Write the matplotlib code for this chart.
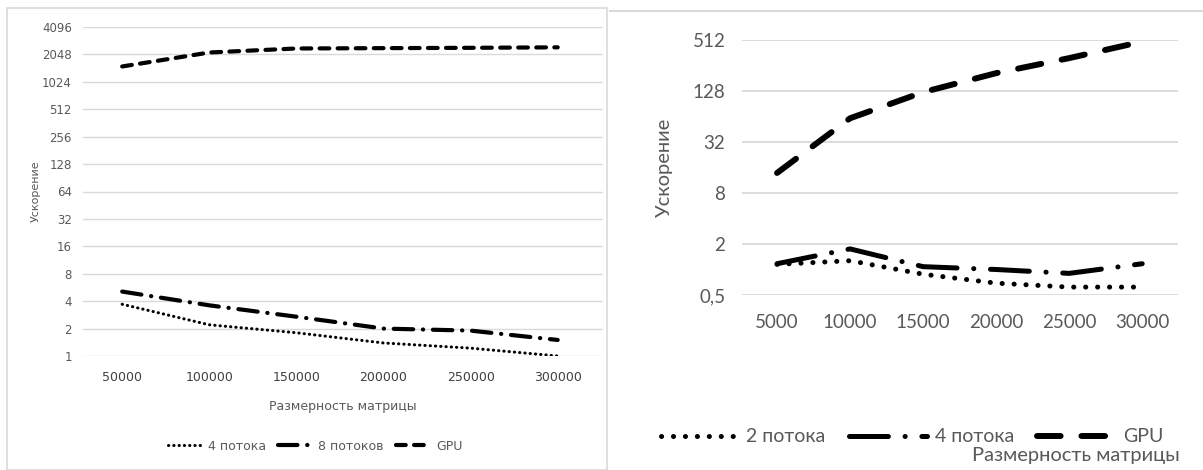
import matplotlib
matplotlib.use('Agg')
import matplotlib.pyplot as plt
from matplotlib.patches import Rectangle
from matplotlib.lines import Line2D

plt.rcParams['lines.scale_dashes'] = False

# левый график
sizes_big = ['50000', '100000', '150000', '200000', '250000', '300000']
threads4_big = [3.7, 2.2, 1.8, 1.39, 1.22, 1.0]
threads8_big = [5.1, 3.6, 2.7, 2.0, 1.9, 1.5]
gpu_big = [1510, 2150, 2380, 2400, 2420, 2450]
yticks_big = [1, 2, 4, 8, 16, 32, 64, 128, 256, 512, 1024, 2048, 4096]

# правый график
sizes_small = ['5000', '10000', '15000', '20000', '25000', '30000']
threads2_small = [1.15, 1.27, 0.88, 0.69, 0.62, 0.62]
threads4_small = [1.17, 1.75, 1.08, 1.0, 0.9, 1.17]
gpu_small = [13.8, 61, 124, 208, 313, 490]
yticks_small = [0.5, 2, 8, 32, 128, 512]
ytick_labels_small = ['0,5', '2', '8', '32', '128', '512']

grid_col = '#d9d9d9'
txt_col = '#595959'
narrow = ['Liberation Sans Narrow', 'DejaVu Sans']
wide = ['Lato', 'DejaVu Sans']

fig = plt.figure(figsize=(12.03, 4.70), dpi=100)

# рамки
fig.patches.append(Rectangle((7 / 1203, 0), 600 / 1203, 1 - 8 / 470, transform=fig.transFigure,
                             fill=False, edgecolor='#d9d9d9', lw=1.2))
fig.add_artist(Line2D([610 / 1203, 1], [1 - 11 / 470] * 2, transform=fig.transFigure,
                      color='#d9d9d9', lw=1.5))

# ---- левый ----
ax1 = fig.add_axes([83 / 1203, 1 - 356 / 470, 520 / 1203, 329 / 470])
x = range(len(sizes_big))
l4, = ax1.plot(x, threads4_big, color='black', lw=2.2, dashes=(0.2, 3.6), dash_capstyle='round')
l8, = ax1.plot(x, threads8_big, color='black', lw=3, dashes=(14, 7, 0.2, 7), dash_capstyle='round')
lg, = ax1.plot(x, gpu_big, color='black', lw=3, dashes=(7, 6), dash_capstyle='round')
ax1.set_yscale('log', base=2)
ax1.set_ylim(1, 4096)
ax1.set_xlim(-0.45, 5.52)
ax1.set_yticks(yticks_big)
ax1.set_yticklabels([str(v) for v in yticks_big], family=narrow, fontsize=8.5, color=txt_col)
ax1.set_xticks(list(x))
ax1.set_xticklabels(sizes_big, family=narrow, fontsize=9, color='#404040')
ax1.minorticks_off()
ax1.tick_params(length=0, pad=11)
ax1.tick_params(axis='y', pad=8)
ax1.grid(axis='y', color=grid_col, lw=1)
for s in ax1.spines.values():
    s.set_visible(False)
ax1.set_xlabel('Размерность матрицы', family=narrow, fontsize=9, color=txt_col, labelpad=11)
ax1.set_ylabel('Ускорение', family=narrow, fontsize=8, color=txt_col, labelpad=1)
fig.legend([l4, l8, lg], ['4 потока', '8 потоков', 'GPU'], loc='center',
           bbox_to_anchor=(315 / 1203, 1 - 446 / 470), ncol=3, frameon=False,
           prop={'family': narrow, 'size': 9}, labelcolor=txt_col,
           handlelength=2.6, columnspacing=1.0, handletextpad=0.6)

# ---- правый ----
ax2 = fig.add_axes([742 / 1203, 1 - 295 / 470, 436 / 1203, 255 / 470])
x = range(len(sizes_small))
r2, = ax2.plot(x, threads2_small, color='black', lw=3.6, dashes=(0.1, 8.5), dash_capstyle='round')
r4, = ax2.plot(x, threads4_small, color='black', lw=3.6, dashes=(28, 12, 0.1, 12), dash_capstyle='round')
rg, = ax2.plot(x, gpu_small, color='black', lw=4.3, dashes=(17, 15), dash_capstyle='round')
ax2.set_yscale('log', base=2)
ax2.set_ylim(0.5, 512)
ax2.set_xlim(-0.48, 5.49)
ax2.set_yticks(yticks_small)
ax2.set_yticklabels(ytick_labels_small, family=wide, fontsize=13.5, color=txt_col)
ax2.set_xticks(list(x))
ax2.set_xticklabels(sizes_small, family=wide, fontsize=13.5, color=txt_col)
ax2.minorticks_off()
ax2.tick_params(length=0, pad=14)
ax2.tick_params(axis='y', pad=12)
ax2.grid(axis='y', color=grid_col, lw=1.3)
for s in ax2.spines.values():
    s.set_visible(False)
ax2.set_ylabel('Ускорение', family=wide, fontsize=14.5, color=txt_col, labelpad=14)
fig.text(1180 / 1203, 1 - 455 / 470, 'Размерность матрицы', family=wide, fontsize=14.5,
         color=txt_col, ha='right', va='center')
fig.legend([r2, r4, rg], ['2 потока', '4 потока', 'GPU'], loc='center',
           bbox_to_anchor=(912 / 1203, 1 - 437 / 470), ncol=3, frameon=False,
           prop={'family': wide, 'size': 14}, labelcolor=txt_col,
           handlelength=4.0, columnspacing=1.2, handletextpad=0.4)

fig.savefig('out.png', dpi=100)
